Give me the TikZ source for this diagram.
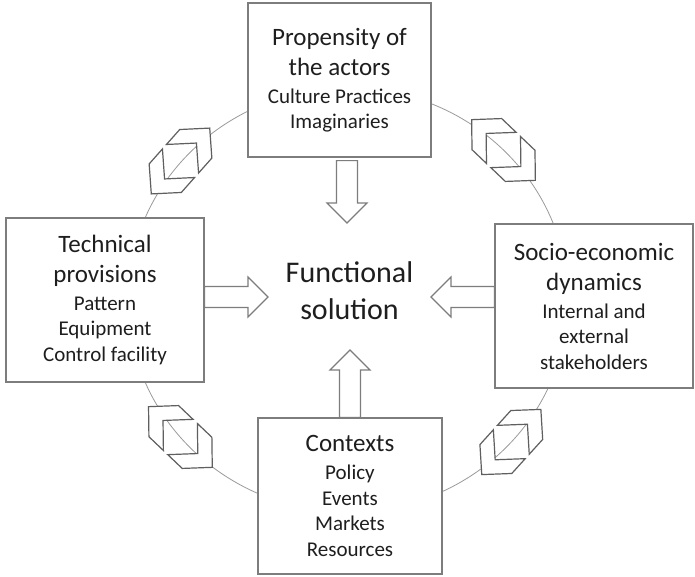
\documentclass[tikz,border=0pt]{standalone}
\usepackage{fontspec}
\setmainfont{Carlito}
\usetikzlibrary{calc}
\definecolor{boxgray}{RGB}{125,125,125}
\definecolor{ringgray}{RGB}{155,155,155}
\definecolor{chevgray}{RGB}{95,95,95}
\definecolor{txt}{RGB}{30,30,30}
\newcommand{\ttl}[1]{{\fontsize{25}{30}\selectfont #1}}
\begin{document}
\begin{tikzpicture}[x=1pt,y=-1pt,
  box/.style={draw=boxgray, line width=1.2pt, fill=white, align=center,
    inner sep=0pt, text=txt, font=\fontsize{21}{25.5}\selectfont},
  blockarrow/.style={draw=boxgray, line width=1.1pt, fill=white, line join=miter,
    to path={
      ($(\tikztostart)!10.5pt!90:(\tikztotarget)$) --
      ($($(\tikztotarget)!20pt!(\tikztostart)$)!10.5pt!90:(\tikztotarget)$) --
      ($($(\tikztotarget)!20pt!(\tikztostart)$)!20pt!90:(\tikztotarget)$) --
      (\tikztotarget) --
      ($($(\tikztotarget)!20pt!(\tikztostart)$)!20pt!-90:(\tikztotarget)$) --
      ($($(\tikztotarget)!20pt!(\tikztostart)$)!10.5pt!-90:(\tikztotarget)$) --
      ($(\tikztostart)!10.5pt!-90:(\tikztotarget)$) -- cycle}},
  chevron/.style={draw=chevgray, line width=1.2pt, fill=white, line join=miter},
  ring/.style={draw=ringgray, line width=0.8pt},
  dblchev/.pic={
    \draw[chevron] (44,0) -- (23,21.5) -- (3,21.5) -- (24,0)
       -- (3,-21.5) -- (23,-21.5) -- cycle;
    \draw[chevron] (-44,0) -- (-23,21.5) -- (-3,21.5) -- (-24,0)
       -- (-3,-21.5) -- (-23,-21.5) -- cycle;
  }
]
\useasboundingbox[fill=white] (0,0) rectangle (695,577);

% ring
\draw[ring] (348,300) ellipse [x radius=220pt, y radius=212pt];

% double chevrons on the ring
\pic[rotate=48.4] at (180.5,161) {dblchev};
\pic[rotate=136.4] at (503.5,150) {dblchev};
\pic[rotate=-43.6] at (180.4,437) {dblchev};
\pic[rotate=47.8] at (511.3,442) {dblchev};

% boxes
\node[box, minimum width=183pt, minimum height=154pt] (top) at (339.5,80)
  {\ttl{Propensity of}\\[4.5pt]\ttl{the actors}\\[2.5pt]Culture Practices\\Imaginaries};
\node[box, minimum width=198pt, minimum height=164pt] (left) at (105,300)
  {\ttl{Technical}\\[4.5pt]\ttl{provisions}\\[2.5pt]Pattern\\Equipment\\Control facility};
\node[box, minimum width=198pt, minimum height=164pt] (right) at (594,306)
  {\ttl{Socio-economic}\\[4.5pt]\ttl{dynamics}\\[2.5pt]Internal and\\external\\stakeholders};
\node[box, minimum width=184pt, minimum height=156pt] (bottom) at (350,496)
  {\ttl{Contexts}\\[2.5pt]Policy\\Events\\Markets\\Resources};

% centre
\node[text=txt, align=center, font=\fontsize{30}{37}\selectfont] (fs) at (349.5,291)
  {Functional\\solution};

% block arrows
\coordinate (tipT) at (347,223);
\coordinate (tipL) at (268,297);
\coordinate (tipR) at (431,297);
\coordinate (tipB) at (350,350);
\draw[blockarrow] ($(top.south -| tipT)+(0,3)$) to (tipT);
\draw[blockarrow] (left.east |- tipL) to (tipL);
\draw[blockarrow] (right.west |- tipR) to (tipR);
\draw[blockarrow] (bottom.north -| tipB) to (tipB);
\end{tikzpicture}
\end{document}
